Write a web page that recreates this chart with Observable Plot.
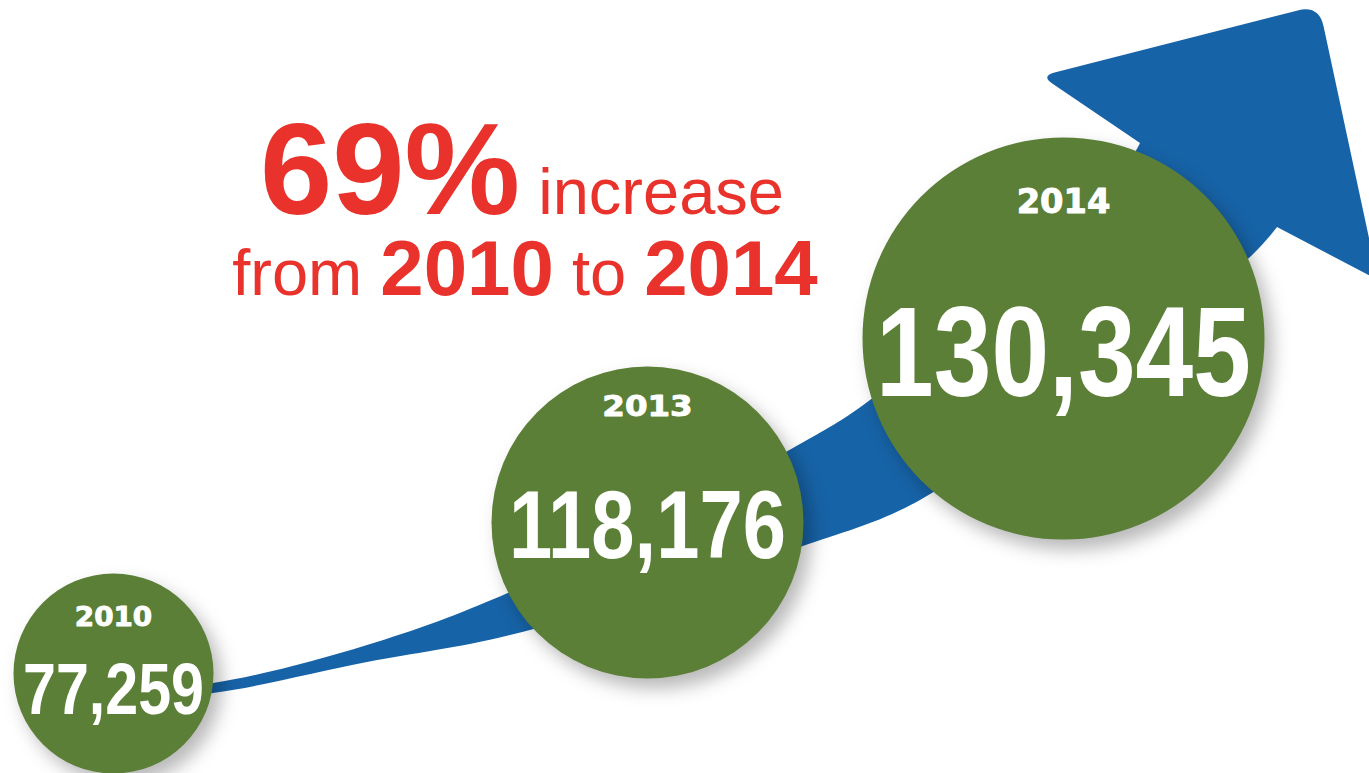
<!DOCTYPE html>
<html>
<head>
<meta charset="utf-8">
<script src="https://cdn.jsdelivr.net/npm/d3@7"></script>
<script src="https://cdn.jsdelivr.net/npm/@observablehq/plot@0.6"></script>
<style>
  html, body { margin: 0; padding: 0; background: #ffffff; overflow: hidden; }
  #chart svg g[aria-label="dot"] circle { filter: drop-shadow(8px 10px 9px rgba(0,0,0,0.28)); }
</style>
</head>
<body>
<div id="chart"></div>
<script>
// ---------- data ----------
const years = [2010, 2013, 2014];
const counts = [77259, 118176, 130345];
const yearLabels = ["2010", "2013", "2014"];
const valueLabels = ["77,259", "118,176", "130,345"];
const headlineLine1 = ["69%", " increase"];
const headlineLine2 = ["from ", "2010", " to ", "2014"];

// ---------- styles ----------
const GREEN = "#5b7f37";
const BLUE = "#1763a7";
const RED = "#e8322b";
const circleLayout = [
  {yearSize: 26, yearDy: -48, yearStretch: 1.07, valueSize: 73, valueDy: 40},
  {yearSize: 29, yearDy: -107, yearStretch: 1.12, valueSize: 96, valueDy: 35},
  {yearSize: 33, yearDy: -126, yearStretch: 1.02, valueSize: 128, valueDy: 57}
];
const line1Styles = [{size: 130, weight: "bold"}, {size: 65, weight: "normal"}];
const line2Styles = [{size: 65, weight: "normal"}, {size: 78, weight: "bold"}, {size: 65, weight: "normal"}, {size: 78, weight: "bold"}];

const table = years.map((year, i) => ({year, count: counts[i], yearLabel: yearLabels[i], valueLabel: valueLabels[i]}));

const chart = Plot.plot({
  width: 1369,
  height: 773,
  margin: 0,
  style: {background: "#ffffff", overflow: "visible"},
  x: {type: "linear", domain: years, range: [113, 647, 1063], axis: null},
  y: {type: "linear", domain: counts, range: [673, 522, 338], axis: null},
  r: {type: "linear", domain: counts, range: [100, 156, 201]},
  marks: [
    Plot.dot(table, {x: "year", y: "count", r: "count", fill: GREEN, stroke: null}),
    ...table.map((d, i) => Plot.text([d], {
      x: "year", y: "count", text: "yearLabel",
      dy: circleLayout[i].yearDy, fontSize: circleLayout[i].yearSize,
      fontFamily: "DejaVu Sans", fontWeight: "bold", fill: "#ffffff",
      stroke: "#ffffff", strokeWidth: 0.9,
      lineAnchor: "bottom", textAnchor: "middle", className: `year-label-${i}`
    })),
    ...table.map((d, i) => Plot.text([d], {
      x: "year", y: "count", text: "valueLabel",
      dy: circleLayout[i].valueDy, fontSize: circleLayout[i].valueSize,
      fontFamily: "Liberation Sans", fontWeight: "bold", fill: "#ffffff",
      lineAnchor: "bottom", textAnchor: "middle", className: "value-label"
    }))
  ]
});
document.getElementById("chart").appendChild(chart);

// condensed look for the value numbers, wide look for the years
chart.querySelectorAll(".value-label text").forEach(t => {
  const w = t.getComputedTextLength();
  t.setAttribute("textLength", (w * 0.81).toFixed(1));
  t.setAttribute("lengthAdjust", "spacingAndGlyphs");
});
circleLayout.forEach((s, i) => {
  chart.querySelectorAll(`.year-label-${i} text`).forEach(t => {
    const w = t.getComputedTextLength();
    t.setAttribute("textLength", (w * s.yearStretch).toFixed(1));
    t.setAttribute("lengthAdjust", "spacingAndGlyphs");
  });
});

// ---------- growth arrow (decoration anchored on the circle positions) ----------
const sx = chart.scale("x"), sy = chart.scale("y");
const C = table.map(d => [sx.apply(d.year), sy.apply(d.count)]);
const at = (c, dx, dy) => [C[c][0] + dx, C[c][1] + dy];

const topEdge = [
  at(0, 0, 17), at(0, 100, 10), at(0, 254, -28), at(1, -137, 70), at(1, 153, -78),
  at(2, -193, 62), at(2, -63, -55), at(2, 64, -174), at(2, 77, -195)
];
const bottomEdge = [
  at(0, 0, 27), at(0, 100, 20), at(0, 254, -11), at(1, -137, 113), at(1, 153, 25),
  at(2, -143, 162), at(2, 22, 40), at(2, 187, -81), at(2, 214, -111)
];
const headL = at(2, -22, -262), headT = at(2, 256, -333), headR = at(2, 315, -58);

function corner(p0, p1, p2, r) {
  const n = (a, b) => { const dx = b[0] - a[0], dy = b[1] - a[1], l = Math.hypot(dx, dy); return [dx / l, dy / l]; };
  const d1 = n(p1, p0), d2 = n(p1, p2);
  const a = [p1[0] + d1[0] * r, p1[1] + d1[1] * r];
  const b = [p1[0] + d2[0] * r, p1[1] + d2[1] * r];
  return `L${a[0]},${a[1]}Q${p1[0]},${p1[1]} ${b[0]},${b[1]}`;
}
const curve = d3.line().curve(d3.curveCatmullRom.alpha(0.5));
const NL = topEdge[topEdge.length - 1];
let dPath = curve(topEdge);
dPath += corner(NL, headL, headT, 14);
dPath += corner(headL, headT, headR, 22);
dPath += `L${headR[0]},${headR[1]}`;
dPath += curve(bottomEdge.slice().reverse()).replace(/^M/, "L");
dPath += "Z";

const ns = "http://www.w3.org/2000/svg";
const arrow = document.createElementNS(ns, "path");
arrow.setAttribute("d", dPath);
arrow.setAttribute("fill", BLUE);
const dotGroup = chart.querySelector('g[aria-label="dot"]');
dotGroup.parentNode.insertBefore(arrow, dotGroup);

// ---------- headline ----------
function addLine(words, styles, x, y) {
  const t = document.createElementNS(ns, "text");
  t.setAttribute("x", x);
  t.setAttribute("y", y);
  t.setAttribute("text-anchor", "middle");
  t.setAttribute("fill", RED);
  t.setAttribute("font-family", "Liberation Sans, Arial, sans-serif");
  t.setAttribute("xml:space", "preserve");
  t.style.whiteSpace = "pre";
  words.forEach((w, i) => {
    const s = document.createElementNS(ns, "tspan");
    s.textContent = w;
    s.setAttribute("font-size", styles[i].size);
    s.setAttribute("font-weight", styles[i].weight);
    t.appendChild(s);
  });
  chart.appendChild(t);
}
addLine(headlineLine1, line1Styles, 522, 214);
addLine(headlineLine2, line2Styles, 525, 295);
</script>
</body>
</html>
